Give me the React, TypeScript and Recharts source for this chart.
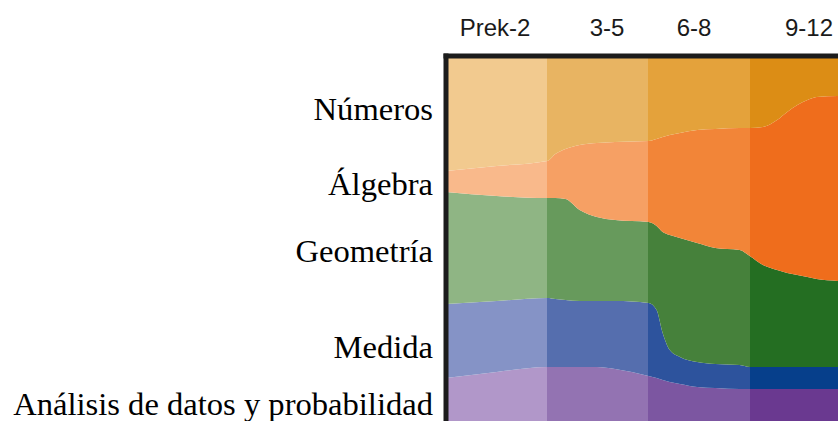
import React from "react";
import { AreaChart, Area, XAxis, YAxis, ReferenceLine } from "recharts";

// Position across the four grade bands (0 = left edge of Prek-2, 4 = right edge of 9-12)
const positions = [0, 0.5, 1.0, 1.08, 1.18, 1.32, 1.49, 1.67, 2.0, 2.08, 2.14, 2.21, 2.31, 2.48, 2.66, 2.9, 3.0, 3.13, 3.27, 3.37, 3.47, 3.57, 3.66, 3.87, 4.0];

// Relative emphasis (stacked thickness) of each strand
const numeros = [115, 110, 105, 98, 93, 89, 87, 86, 85, 83, 81, 79, 77, 74, 73, 72, 72, 71, 64, 56, 49, 44, 41, 40, 40];
const algebra = [21, 30, 37, 44, 50, 65, 74, 78, 81, 87, 95, 100, 105, 113, 119, 122, 128, 138, 150, 161, 170, 177, 182, 185, 186];
const geometria = [112, 105, 100, 101, 101, 91, 84, 81, 81, 84, 101, 115, 119, 119, 116, 115, 111, 102, 97, 94, 92, 90, 88, 86, 85];
const medida = [74, 71, 69, 68, 67, 66, 66, 68, 73, 68, 47, 32, 27, 25, 24, 24, 22, 22, 22, 22, 22, 22, 22, 22, 22];
const analisis = [62, 68, 73, 73, 73, 73, 73, 71, 64, 62, 60, 58, 56, 53, 52, 51, 51, 51, 51, 51, 51, 51, 51, 51, 51];

const gradeLabels = ["Prek-2", "3-5", "6-8", "9-12"];
const gradeTicks = [0.484, 1.59, 2.45, 3.585];

const strandLabels = ["Números", "Álgebra", "Geometría", "Medida", "Análisis de datos y probabilidad"];
const strandTicks = [331.4, 256.4, 189.4, 93.4, 36.4];

const Y_MAX = 384;

const data = positions.map((p, i) => ({
  x: p,
  numeros: numeros[i],
  algebra: algebra[i],
  geometria: geometria[i],
  medida: medida[i],
  analisis: analisis[i],
}));

const palettes: Record<string, string[]> = {
  numeros: ["#F2CA8F", "#E8B462", "#E4A23B", "#DC8D15"],
  algebra: ["#F9B98B", "#F6A064", "#F28538", "#EF6D1C"],
  geometria: ["#8FB584", "#679A5C", "#46813B", "#246E22"],
  medida: ["#8593C6", "#556EAE", "#2D539D", "#063F8B"],
  analisis: ["#B197C9", "#9373B2", "#7C56A1", "#6A3990"],
};

const order = ["analisis", "medida", "geometria", "algebra", "numeros"];

function Grad({ id, colors }: { id: string; colors: string[] }) {
  const stops: React.ReactNode[] = [];
  colors.forEach((c, i) => {
    stops.push(<stop key={`a${i}`} offset={i / 4} stopColor={c} />);
    stops.push(<stop key={`b${i}`} offset={(i + 1) / 4} stopColor={c} />);
  });
  return (
    <linearGradient id={id} x1="0" y1="0" x2="1" y2="0">
      {stops}
    </linearGradient>
  );
}

export default function App() {
  return (
    <div
      style={{
        position: "absolute",
        left: 0,
        top: 0,
        width: 838,
        height: 421,
        overflow: "hidden",
        background: "#ffffff",
      }}
    >
      <AreaChart width={851} height={440} data={data} margin={{ top: 0, right: 0, bottom: 0, left: 0 }}>
        <defs>
          {order.map((k) => (
            <Grad key={k} id={`g-${k}`} colors={palettes[k]} />
          ))}
        </defs>
        <XAxis
          dataKey="x"
          type="number"
          domain={[0, 4]}
          orientation="top"
          height={56}
          ticks={gradeTicks}
          interval={0}
          tickFormatter={(v: number) => gradeLabels[gradeTicks.indexOf(v)] ?? ""}
          axisLine={false}
          tickLine={false}
          tickSize={0}
          tickMargin={20}
          tick={{ fontFamily: "'Liberation Sans', Arial, sans-serif", fontSize: 24, fill: "#1a1a1a" }}
        />
        <YAxis
          type="number"
          domain={[0, Y_MAX]}
          width={446}
          ticks={strandTicks}
          interval={0}
          tickFormatter={(v: number) => strandLabels[strandTicks.indexOf(v)] ?? ""}
          axisLine={false}
          tickLine={false}
          tickSize={0}
          tickMargin={13}
          tick={{ fontFamily: "'Liberation Serif', 'Times New Roman', serif", fontSize: 32.6, fill: "#000000" }}
        />
        {order.map((k) => (
          <Area
            key={k}
            dataKey={k}
            stackId="1"
            type="monotone"
            stroke="none"
            fill={`url(#g-${k})`}
            fillOpacity={1}
            isAnimationActive={false}
          />
        ))}
        <ReferenceLine x={0} stroke="#1c1c1c" strokeWidth={5} strokeLinecap="square" />
        <ReferenceLine y={Y_MAX} stroke="#1c1c1c" strokeWidth={5} strokeLinecap="square" />
      </AreaChart>
    </div>
  );
}
